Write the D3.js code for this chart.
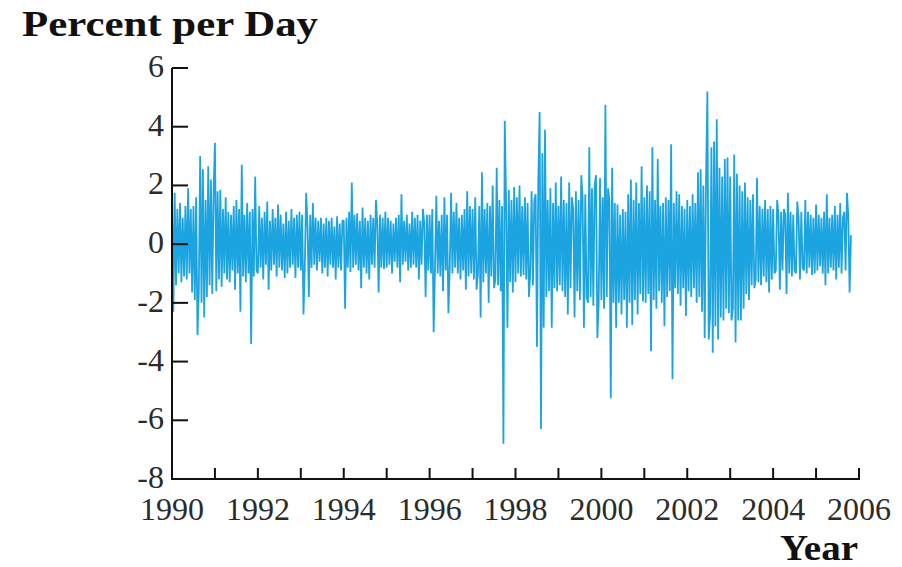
<!DOCTYPE html>
<html>
<head>
<meta charset="utf-8">
<script src="https://d3js.org/d3.v7.min.js"></script>
<style>
  body { margin: 0; background: #fff; }
  svg { display: block; }
</style>
</head>
<body>
<div id="chart"></div>
<script>
// daily returns, percent per day (32 samples per year)
var r1990 = [1.7, -2.3, 1.75, -1.4, 1.2, -1.0, 1.4, -1.3, 0.9, -1.1, 1.3, -1.2, 1.9, -1.0, 1.2, -1.65,
             1.3, -1.9, 1.6, -3.1, -1.5, 3.0, -2.0, 2.55, -2.5, 1.5, -1.8, 2.65, -1.4, 2.2, -1.7, 1.8];
var r1991 = [3.45, -1.6, 1.8, -1.2, 1.85, -1.45, 1.2, -1.0, 1.6, -1.2, 1.1, -1.3, 1.0, -0.9, 1.3, -1.55,
             1.5, -1.0, 1.2, -2.3, 2.7, -1.1, 1.0, -1.3, 1.4, -1.0, 1.1, -3.4, 1.2, -1.1, 2.3, -0.9];
var r1992 = [-1.0, 1.3, -0.8, 0.9, -1.2, 1.1, -0.7, 1.45, -1.55, 0.8, -0.9, 1.2, -0.7, 0.9, -1.1, 1.35,
             -0.8, 1.0, -0.9, 0.7, -1.15, 1.1, -1.0, 0.8, -0.8, 1.2, -0.7, 0.9, -1.15, 1.0, -0.8, 1.1];
var r1993 = [-0.9, 1.0, -2.4, -0.7, 1.75, 0.6, -1.8, 1.0, -0.8, 1.4, -0.7, 0.9, -0.9, 0.8, -0.6, 0.9,
             -1.0, 0.7, -0.8, 0.9, -1.1, 0.8, -0.7, 0.9, -0.8, 0.6, -1.2, 0.95, -0.8, 0.7, -0.9, 0.8];
var r1994 = [0.8, -2.2, 0.9, -0.8, 1.1, -0.95, 2.1, -0.8, 1.0, -0.7, 1.05, -0.9, 0.8, -1.5, 1.25, -0.8,
             0.9, -1.0, 0.8, -1.2, 1.0, -0.7, 0.9, -0.8, 1.5, 0.7, -1.65, 1.0, -0.8, 0.9, -0.85, 1.1];
var r1995 = [-0.8, 0.9, -0.7, 0.8, -1.0, 0.7, -0.6, 0.9, -0.8, 1.0, -1.3, 1.7, -0.7, 0.8, -0.6, 1.0,
             -0.9, 0.7, -0.8, 1.1, -0.7, 0.9, -0.8, 1.0, -1.2, 0.8, -0.7, 1.2, 0.7, -1.8, 1.0, -0.9];
var r1996 = [1.0, -1.0, 1.2, -3.0, -0.8, 1.65, -1.0, 0.8, -1.1, 1.0, -1.6, 1.6, -0.9, 1.0, -2.35, -0.8,
             1.75, -1.0, 1.1, -0.8, 1.4, -1.0, 0.9, -1.2, 1.0, -0.9, 1.2, -1.55, 1.8, -1.1, 1.3, -1.0];
var r1997 = [1.2, -1.2, 1.6, -1.55, -1.0, 1.3, -2.5, 2.45, -1.3, 1.2, -1.0, 1.4, -2.0, 1.3, -1.1, 2.0,
             -1.5, -1.2, 2.6, -1.4, 1.5, -1.6, 1.3, -6.8, 4.2, 1.4, -2.85, 1.85, -1.3, 1.5, -1.65, 1.95];
var r1998 = [-1.3, 1.6, -1.0, 2.0, -1.1, 1.3, -1.05, 1.6, -1.2, 1.4, -1.8, -1.0, 1.8, -1.4, 1.5, 1.7,
             -3.5, 2.2, 4.5, -6.3, 3.1, -2.85, 3.9, -1.8, 1.5, -1.6, 1.9, -2.85, 1.4, -1.5, 2.1, -1.6];
var r1999 = [1.3, -1.4, 2.3, -1.6, 1.5, -1.8, 1.4, -2.4, 2.1, -1.5, 1.6, 1.2, -2.5, 1.8, -1.6, 1.5,
             -1.9, 2.35, 1.6, -2.85, 1.7, -1.8, -2.0, 3.3, -1.8, 1.9, -2.1, 2.0, 2.35, -3.2, -2.0, 2.25];
var r2000 = [-1.9, 1.6, -2.2, 4.75, -1.8, 1.9, 1.5, -5.25, 2.6, -2.0, 1.4, -2.85, 1.35, -2.0, 1.0, -2.4,
             1.2, -1.9, 1.1, -2.85, 1.7, -2.0, 2.2, -2.75, 1.5, -1.9, 2.1, -2.4, 1.4, -1.7, 2.65, -1.95];
var r2001 = [1.6, -2.0, 2.0, -1.7, 1.8, -3.65, 3.3, -1.9, 1.5, -2.2, 2.9, -1.6, 1.3, -2.0, 1.4, -2.8,
             1.6, -1.8, 1.5, -1.6, 3.4, -4.6, 1.4, -1.5, 1.8, -1.7, 1.7, -2.1, 1.3, -1.5, 1.2, -2.45];
var r2002 = [1.5, -1.6, 1.3, -1.8, 1.7, -1.5, 1.4, -2.0, 2.45, -1.8, 2.55, -2.3, 2.0, -3.2, 2.2, 5.2,
             -3.25, -2.4, 3.3, -3.7, 3.5, -2.8, 4.25, -3.25, 2.6, -2.5, 2.3, -2.6, 2.9, -2.2, 2.95, -2.35];
var r2003 = [2.3, -2.6, -2.2, 3.05, -3.35, 2.4, -2.6, 2.0, -2.6, 1.8, -2.2, 2.1, -1.7, 1.6, -1.9, 1.5,
             -1.4, 1.7, -1.5, -1.2, 2.25, -1.3, 1.3, -1.4, 1.2, -1.1, 1.5, -1.3, 1.2, -1.65, 1.3, -1.2];
var r2004 = [1.2, -1.0, -0.9, 1.5, 1.0, -1.55, 1.1, -0.9, 1.2, 1.0, -1.7, 1.75, -1.0, 1.1, -1.1, 1.0,
             -0.9, -1.0, 1.45, 0.9, -1.2, 1.1, -0.8, -0.9, 1.5, -1.0, 1.1, -0.8, 1.0, -1.05, 0.9, -1.0];
var r2005 = [1.35, -0.9, 1.0, -0.75, 0.9, -1.0, 1.1, -1.4, 1.7, -1.0, 0.9, -0.8, 1.0, -0.9, 1.3, -1.2,
             1.0, -0.8, 1.4, -1.0, 0.9, 1.1, -0.9, 1.75, 1.0, -1.65, 0.3];

var years = [1990, 1991, 1992, 1993, 1994, 1995, 1996, 1997, 1998, 1999, 2000, 2001, 2002, 2003, 2004, 2005];
var yearData = [r1990, r1991, r1992, r1993, r1994, r1995, r1996, r1997, r1998, r1999, r2000, r2001, r2002, r2003, r2004, r2005];
var perYear = 32;

var yTicks = [6, 4, 2, 0, -2, -4, -6, -8];
var xLabels = [1990, 1992, 1994, 1996, 1998, 2000, 2002, 2004, 2006];
var xTicks = [1991, 1992, 1993, 1994, 1995, 1996, 1997, 1998, 1999, 2000, 2001, 2002, 2003, 2004, 2005, 2006];

var width = 902;
var height = 567;

// flatten into points: each sample sits at year + i/perYear
var points = [];
yearData.forEach(function (arr, k) {
    arr.forEach(function (v, i) {
        points.push({ t: years[k] + i / perYear, v: v });
    });
});

var svg = d3.select("#chart").append("svg")
    .attr("width", width)
    .attr("height", height);

var x = d3.scaleLinear().domain([1990, 2006]).range([172, 859]);
var y = d3.scaleLinear().domain([-8, 6]).range([479, 68]);

var serif = "'Liberation Serif', 'DejaVu Serif', serif";

// the series - drawn fairly thick so the daily noise reads as a solid band
var line = d3.line()
    .x(d => x(d.t))
    .y(d => y(d.v));

svg.append("path")
    .datum(points)
    .attr("d", line)
    .style("fill", "none")
    .style("stroke", "#1ca4e0")
    .style("stroke-width", 1.8)
    .style("stroke-linejoin", "bevel");

// y axis, ticks pointing inward
var yAxis = svg.append("g").attr("transform", "translate(172,0)");
yAxis.append("line")
    .attr("x1", 0).attr("x2", 0)
    .attr("y1", y(6)).attr("y2", y(-8))
    .style("stroke", "#111").style("stroke-width", 2);
yAxis.selectAll(".ytick")
    .data(yTicks)
    .enter().append("line")
    .attr("class", "ytick")
    .attr("x1", 0).attr("x2", 16)
    .attr("y1", d => y(d)).attr("y2", d => y(d))
    .style("stroke", "#111").style("stroke-width", 2);
yAxis.selectAll(".ylab")
    .data(yTicks)
    .enter().append("text")
    .attr("class", "ylab")
    .attr("x", -8)
    .attr("y", d => y(d) + 9)
    .text(d => d)
    .style("text-anchor", "end")
    .style("font-family", serif)
    .style("font-size", "32px")
    .style("fill", "#2b2b2b");

// x axis, ticks pointing up
var xAxis = svg.append("g").attr("transform", "translate(0," + y(-8) + ")");
xAxis.append("line")
    .attr("x1", x(1990) - 1).attr("x2", x(2006) + 1)
    .attr("y1", 0).attr("y2", 0)
    .style("stroke", "#111").style("stroke-width", 2);
xAxis.selectAll(".xtick")
    .data(xTicks)
    .enter().append("line")
    .attr("class", "xtick")
    .attr("x1", d => x(d)).attr("x2", d => x(d))
    .attr("y1", 0).attr("y2", -11)
    .style("stroke", "#111").style("stroke-width", 2);
xAxis.selectAll(".xlab")
    .data(xLabels)
    .enter().append("text")
    .attr("class", "xlab")
    .attr("x", d => x(d))
    .attr("y", 41)
    .text(d => d)
    .style("text-anchor", "middle")
    .style("font-family", serif)
    .style("font-size", "32px")
    .style("fill", "#2b2b2b");

// titles
svg.append("text")
    .attr("x", 22)
    .attr("y", 36)
    .attr("textLength", 296)
    .attr("lengthAdjust", "spacingAndGlyphs")
    .text("Percent per Day")
    .style("font-family", serif)
    .style("font-weight", "bold")
    .style("font-size", "35px")
    .style("fill", "#111");

svg.append("text")
    .attr("x", 780)
    .attr("y", 560)
    .attr("textLength", 78)
    .attr("lengthAdjust", "spacingAndGlyphs")
    .text("Year")
    .style("font-family", serif)
    .style("font-weight", "bold")
    .style("font-size", "35px")
    .style("fill", "#111");
</script>
</body>
</html>
